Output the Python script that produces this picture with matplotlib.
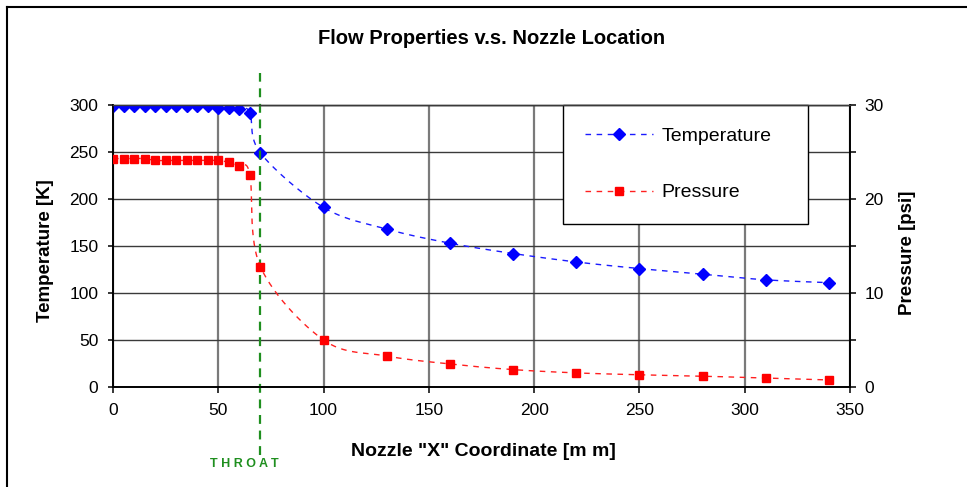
import numpy as np
import matplotlib
matplotlib.use("Agg")
import matplotlib.pyplot as plt
from matplotlib.lines import Line2D
from matplotlib.ticker import MultipleLocator

plt.rcParams['font.family'] = ['Liberation Sans', 'DejaVu Sans']

# ---- data ----
x_mm = [0, 5, 10, 15, 20, 25, 30, 35, 40, 45, 50, 55, 60, 65, 70,
        100, 130, 160, 190, 220, 250, 280, 310, 340]
temperature_K = [299, 299, 299, 299, 299, 299, 299, 299, 299, 299, 297, 297, 296, 292, 249,
                 191, 168, 153, 142, 133, 126, 120, 114, 111]
pressure_psi = [24.3, 24.3, 24.3, 24.3, 24.1, 24.1, 24.1, 24.1, 24.1, 24.1, 24.1, 23.9, 23.5, 22.6, 12.8,
                5.0, 3.3, 2.45, 1.85, 1.5, 1.3, 1.15, 0.95, 0.75]
throat_x = 70
x_ticks = [0, 50, 100, 150, 200, 250, 300, 350]
temp_ticks = [0, 50, 100, 150, 200, 250, 300]
press_ticks = [0, 10, 20, 30]


def smooth(xs, ys, n=30):
    """Excel-like smoothed line (Catmull-Rom as cubic Bezier)."""
    P = np.column_stack([xs, ys]).astype(float)
    out = []
    m = len(P)
    t = np.linspace(0, 1, n)[:, None]
    for i in range(m - 1):
        p0 = P[max(i - 1, 0)]
        p1 = P[i]
        p2 = P[i + 1]
        p3 = P[min(i + 2, m - 1)]
        c1 = p1 + (p2 - p0) / 6.0
        c2 = p2 - (p3 - p1) / 6.0
        seg = ((1 - t) ** 3) * p1 + 3 * ((1 - t) ** 2) * t * c1 + 3 * (1 - t) * t ** 2 * c2 + t ** 3 * p2
        out.append(seg if i == 0 else seg[1:])
    a = np.vstack(out)
    return a[:, 0], a[:, 1]


W, H = 967, 487
fig = plt.figure(figsize=(W / 100, H / 100), dpi=100)
ax = fig.add_axes([113 / W, 1 - 387 / H, (850 - 113) / W, (387 - 105) / H])
ax2 = ax.twinx()

ax.set_xlim(0, 350)
ax.set_ylim(0, 300)
ax2.set_ylim(0, 30)

# grid
ax.set_xticks(x_ticks)
ax.set_yticks(temp_ticks)
ax.xaxis.grid(True, color='#7a7a7a', lw=1.6)
ax.yaxis.grid(True, color='#3a3a3a', lw=1.0)
ax.set_axisbelow(True)

dash = (0, (4, 4))
tx, ty = smooth(x_mm, temperature_K)
ax.plot(tx, ty, color='#1a1aff', lw=1.0, linestyle=dash, zorder=3)
ax.plot(x_mm, temperature_K, linestyle='none', marker='D', ms=6.5, color='#0000ff', zorder=4)

px, py = smooth(x_mm, pressure_psi)
ax2.plot(px, py, color='#ff2020', lw=1.0, linestyle=dash, zorder=3)
ax2.plot(x_mm, pressure_psi, linestyle='none', marker='s', ms=5.5, color='#ff0000', zorder=4)

# throat line
ax.axvline(throat_x, ymin=(387 - 455) / 282, ymax=(387 - 73) / 282, color='#1f8f1f',
           lw=1.6, linestyle=(0, (4, 3)), clip_on=False, zorder=5)

# spines & ticks
for a in (ax, ax2):
    a.spines['top'].set_color('#3a3a3a')
    a.spines['top'].set_linewidth(1.0)
    for s in ('left', 'right', 'bottom'):
        a.spines[s].set_color('black')
        a.spines[s].set_linewidth(1.2)
ax.tick_params(axis='x', direction='out', length=4.5, width=1.1, pad=7, labelsize=12.5)
ax.tick_params(axis='y', direction='out', length=3.5, width=1.1, pad=7, labelsize=12.5)
ax2.set_yticks(press_ticks)
ax2.yaxis.set_minor_locator(MultipleLocator(5))
ax2.tick_params(axis='y', which='major', direction='out', length=4.5, width=1.1, pad=6, labelsize=12.5)
ax2.tick_params(axis='y', which='minor', direction='out', length=4.5, width=1.1)

# legend
handles = [
    Line2D([], [], color='#1a1aff', lw=1.0, linestyle=dash, marker='D', ms=6.5,
           markerfacecolor='#0000ff', markeredgecolor='#0000ff', label='Temperature'),
    Line2D([], [], color='#ff2020', lw=1.0, linestyle=dash, marker='s', ms=5.5,
           markerfacecolor='#ff0000', markeredgecolor='#ff0000', label='Pressure'),
]
leg = ax.legend(handles=handles, loc='upper left', mode='expand',
                bbox_to_anchor=((563 - 113) / 737, 0.0, (808 - 563) / 737, 1.0), borderaxespad=0,
                fontsize=14, frameon=True, fancybox=False, framealpha=1,
                edgecolor='black', handlelength=3.5, handletextpad=0.4,
                borderpad=1.15, labelspacing=2.0, numpoints=1)
leg.get_frame().set_linewidth(1.0)
leg.set_zorder(10)

# texts
fig.text(492 / W, 1 - 38 / H, 'Flow Properties v.s. Nozzle Location',
         ha='center', va='center', fontsize=14.5, fontweight='bold',
         family=['Liberation Sans Narrow', 'Liberation Sans', 'DejaVu Sans'])
fig.text(45 / W, 1 - 251 / H, 'Temperature [K]', rotation=90, ha='center', va='center',
         fontsize=13.5, fontweight='bold')
fig.text(907 / W, 1 - 253 / H, 'Pressure [psi]', rotation=90, ha='center', va='center',
         fontsize=13.5, fontweight='bold')
fig.text(483 / W, 1 - 452 / H, 'Nozzle "X" Coordinate [m m]', ha='center', va='center',
         fontsize=14, fontweight='bold')
fig.text(244 / W, 1 - 464 / H, 'T H R O A T', ha='center', va='center',
         fontsize=9, fontweight='bold', color='#1f8f1f')

# outer border (top and left visible)
fig.add_artist(Line2D([7 / W, 7 / W], [0, 1 - 7 / H], transform=fig.transFigure,
                      color='black', lw=1.5))
fig.add_artist(Line2D([7 / W, 1], [1 - 7 / H, 1 - 7 / H], transform=fig.transFigure,
                      color='black', lw=1.5))

fig.savefig('out.png', dpi=100)
